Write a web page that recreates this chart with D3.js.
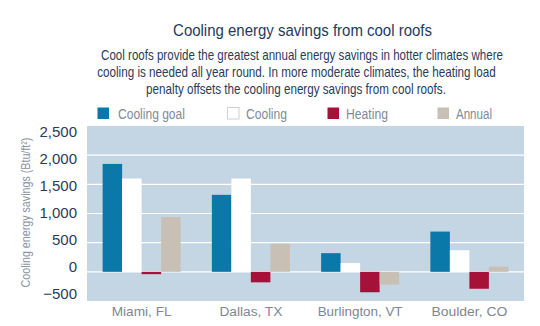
<!DOCTYPE html>
<html>
<head>
<meta charset="utf-8">
<script src="https://cdn.jsdelivr.net/npm/d3@7"></script>
<style>
  html, body { margin: 0; padding: 0; background: #fff; }
  svg text { font-family: "Liberation Sans", Arial, sans-serif; }
</style>
</head>
<body>
<div id="chart"></div>
<script>
// Cooling energy savings by city, Btu/ft²
const cities = ['Miami, FL', 'Dallas, TX', 'Burlington, VT', 'Boulder, CO'];
const seriesNames = ['Cooling goal', 'Cooling', 'Heating', 'Annual'];
const coolingGoal = [1850, 1320, 320, 690];
const cooling = [1600, 1600, 150, 370];
const heating = [-40, -180, -350, -290];
const annual = [940, 480, -220, 90];
const yTicks = [-500, 0, 500, 1000, 1500, 2000, 2500];

const subtitleLines = [
  'Cool roofs provide the greatest annual energy savings in hotter climates where',
  'cooling is needed all year round. In more moderate climates, the heating load',
  'penalty offsets the cooling energy savings from cool roofs.'
];

const colors = {
  'Cooling goal': '#0a79a9',
  'Cooling': '#ffffff',
  'Heating': '#a6113a',
  'Annual': '#c9c0b5'
};

// the type is a condensed face, so text is squeezed horizontally to set widths
const subtitleWidths = [402, 399, 300];
const subtitleCenters = [302, 296.5, 296];
const legendWidths = [67, 41, 42, 36];
const cityWidths = [60, 63, 85, 76];

const width = 540;
const height = 326;
const plot = { left: 87, right: 524, top: 126, bottom: 301 };

const rows = cities.map((c, i) => ({
  city: c,
  values: [coolingGoal[i], cooling[i], heating[i], annual[i]]
}));

// place a text at (tx, ty) and scale it in x so it spans w pixels
function squeeze(node, tx, ty, w, rotate) {
  const len = node.getComputedTextLength();
  const k = len > 0 ? w / len : 1;
  d3.select(node).attr('transform',
    `translate(${tx},${ty})${rotate ? ` rotate(${rotate})` : ''} scale(${k},1)`);
}

const svg = d3.select('#chart').append('svg')
  .attr('width', width)
  .attr('height', height);

const x = d3.scaleBand()
  .domain(cities)
  .range([plot.left, plot.right])
  .paddingInner(0.286)
  .paddingOuter(0.143);

const xInner = d3.scaleBand()
  .domain(seriesNames)
  .range([0, x.bandwidth()]);

const y = d3.scaleLinear()
  .domain([-500, 2500])
  .range([plot.bottom, plot.top]);

// tick labels sit on a slightly tighter spread than the grid (baselines)
const yLabel = d3.scaleLinear()
  .domain([-500, 2500])
  .range([298.5, 136.5]);

// title block
svg.append('text')
  .attr('text-anchor', 'middle')
  .attr('fill', '#233a5e')
  .style('font-size', '17px')
  .text('Cooling energy savings from cool roofs')
  .each(function() { squeeze(this, 302.5, 36, 259); });

svg.append('g')
  .selectAll('text')
  .data(subtitleLines)
  .join('text')
  .attr('text-anchor', 'middle')
  .attr('fill', '#2a3b5c')
  .style('font-size', '14px')
  .text(d => d)
  .each(function(d, i) {
    squeeze(this, subtitleCenters[i], 60 + i * 16.8, subtitleWidths[i]);
  });

// legend
const legendX = [97, 227, 327, 437];
const legend = svg.append('g')
  .selectAll('g')
  .data(seriesNames)
  .join('g')
  .attr('transform', (d, i) => `translate(${legendX[i]},107)`);

legend.append('rect')
  .attr('x', 0.5)
  .attr('y', 0.5)
  .attr('width', 11.5)
  .attr('height', 11.5)
  .attr('fill', d => colors[d])
  .attr('stroke', d => d === 'Cooling' ? '#cdd0d6' : 'none');

legend.append('text')
  .attr('fill', '#808a98')
  .style('font-size', '15px')
  .text(d => d)
  .each(function(d, i) {
    squeeze(this, i === 0 ? 21 : 19, 12, legendWidths[i]);
  });

// plot background and grid
svg.append('rect')
  .attr('x', plot.left)
  .attr('y', plot.top)
  .attr('width', plot.right - plot.left)
  .attr('height', plot.bottom - plot.top)
  .attr('fill', '#c4d5e4');

svg.append('g')
  .selectAll('line')
  .data(yTicks.filter(t => t > -500 && t < 2500))
  .join('line')
  .attr('x1', plot.left)
  .attr('x2', plot.right)
  .attr('y1', d => y(d))
  .attr('y2', d => y(d))
  .attr('stroke', '#ffffff')
  .attr('stroke-width', 1.2);

// y axis labels
svg.append('g')
  .selectAll('text')
  .data(yTicks)
  .join('text')
  .attr('x', 77)
  .attr('y', d => yLabel(d))
  .attr('text-anchor', 'end')
  .attr('fill', '#2a3b5c')
  .style('font-size', '15px')
  .text(d => d3.format(',')(d));

svg.append('text')
  .attr('text-anchor', 'middle')
  .attr('fill', '#8a93a1')
  .style('font-size', '12px')
  .text('Cooling energy savings (Btu/ft²)')
  .each(function() { squeeze(this, 29.5, 212.5, 150, -90); });

// bars
const groups = svg.append('g')
  .selectAll('g')
  .data(rows)
  .join('g')
  .attr('transform', d => `translate(${x(d.city)},0)`);

groups.selectAll('rect')
  .data(d => d.values.map((v, i) => ({ key: seriesNames[i], value: v })))
  .join('rect')
  .attr('x', d => xInner(d.key))
  .attr('width', xInner.bandwidth())
  .attr('y', d => y(Math.max(0, d.value)))
  .attr('height', d => Math.abs(y(d.value) - y(0)))
  .attr('fill', d => colors[d.key]);

// city labels
svg.append('g')
  .selectAll('text')
  .data(cities)
  .join('text')
  .attr('text-anchor', 'middle')
  .attr('fill', '#7d8796')
  .style('font-size', '13.5px')
  .text(d => d)
  .each(function(d, i) {
    squeeze(this, x(d) + x.bandwidth() / 2, 316, cityWidths[i]);
  });
</script>
</body>
</html>
